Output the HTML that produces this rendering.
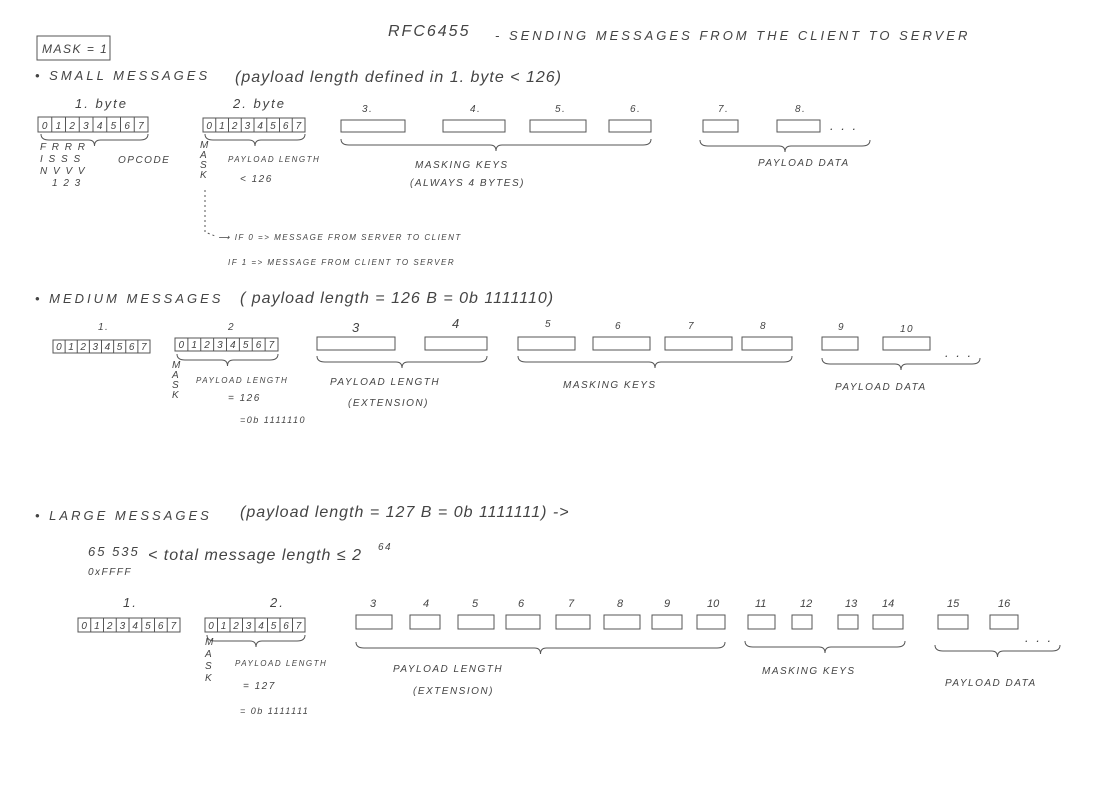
<!DOCTYPE html>
<html><head><meta charset="utf-8"><style>
html,body{margin:0;padding:0;background:#fff;}
svg{display:block}
text{font-family:"Liberation Sans",sans-serif;fill:#444;font-style:italic}
.s{font-size:10px;letter-spacing:1.5px}
.m{font-size:13px;letter-spacing:2px}
.l{font-size:16px;letter-spacing:1px}
</style></head><body>
<svg id="s" width="1100" height="800" viewBox="0 0 1100 800" xmlns="http://www.w3.org/2000/svg">
<g stroke="#555" stroke-width="1" fill="none" id="g">
<rect x="37" y="36" width="73" height="24"/>
</g>
<text x="388" y="36" class="l" style="letter-spacing:2px">RFC6455</text>
<text x="495" y="40" class="m" style="letter-spacing:3px">- SENDING MESSAGES FROM THE CLIENT TO SERVER</text>
<text x="42" y="53" class="s" style="font-size:12px">MASK = 1</text>
<text x="35" y="80" class="m" style="letter-spacing:3px">• SMALL MESSAGES</text>
<text x="235" y="82" class="l">(payload length defined in 1. byte &lt; 126)</text>
<text x="75" y="108" class="m">1. byte</text>
<text x="233" y="108" class="m">2. byte</text>
<text x="362" y="112" class="s">3.</text><text x="470" y="112" class="s">4.</text><text x="555" y="112" class="s">5.</text><text x="630" y="112" class="s">6.</text>
<text x="718" y="112" class="s">7.</text><text x="795" y="112" class="s">8.</text>
<text x="830" y="130" class="m">. . .</text>
<text x="40" y="150" class="s">F R R R</text>
<text x="40" y="162" class="s">I S S S</text>
<text x="40" y="174" class="s">N V V V</text>
<text x="52" y="186" class="s">1 2 3</text>
<text x="118" y="163" class="s">OPCODE</text>
<text x="200" y="148" class="s">M</text><text x="200" y="158" class="s">A</text><text x="200" y="168" class="s">S</text><text x="200" y="178" class="s">K</text>
<text x="228" y="162" class="s" style="font-size:8px">PAYLOAD LENGTH</text>
<text x="240" y="182" class="s">&lt; 126</text>
<text x="415" y="168" class="s">MASKING KEYS</text>
<text x="410" y="186" class="s">(ALWAYS 4 BYTES)</text>
<text x="758" y="166" class="s">PAYLOAD DATA</text>
<text x="218" y="240" class="s" style="font-size:8px">⟶ IF 0 =&gt; MESSAGE FROM SERVER TO CLIENT</text>
<text x="228" y="265" class="s" style="font-size:8px">IF 1 =&gt; MESSAGE FROM CLIENT TO SERVER</text>

<text x="35" y="303" class="m" style="letter-spacing:3px">• MEDIUM MESSAGES</text>
<text x="240" y="303" class="l">( payload length = 126 B = 0b 1111110)</text>
<text x="98" y="330" class="s">1.</text><text x="228" y="330" class="s">2</text>
<text x="352" y="332" class="m">3</text><text x="452" y="328" class="m">4</text>
<text x="545" y="327" class="s">5</text><text x="615" y="329" class="s">6</text><text x="688" y="329" class="s">7</text><text x="760" y="329" class="s">8</text>
<text x="838" y="330" class="s">9</text><text x="900" y="332" class="s">10</text>
<text x="945" y="357" class="m">. . .</text>
<text x="170" y="345" class="s" style="font-size:0"></text>
<text x="172" y="368" class="s">M</text><text x="172" y="378" class="s">A</text><text x="172" y="388" class="s">S</text><text x="172" y="398" class="s">K</text>
<text x="196" y="383" class="s" style="font-size:8px">PAYLOAD LENGTH</text>
<text x="228" y="401" class="s">= 126</text>
<text x="240" y="423" class="s" style="font-size:9px">=0b 1111110</text>
<text x="330" y="385" class="s">PAYLOAD LENGTH</text>
<text x="348" y="406" class="s">(EXTENSION)</text>
<text x="563" y="388" class="s">MASKING KEYS</text>
<text x="835" y="390" class="s">PAYLOAD DATA</text>

<text x="35" y="520" class="m" style="letter-spacing:3px">• LARGE MESSAGES</text>
<text x="240" y="517" class="l">(payload length = 127 B = 0b 1111111) -&gt;</text>
<text x="88" y="556" class="m">65 535</text>
<text x="148" y="560" class="l">&lt; total message length ≤ 2</text><text x="378" y="550" class="s">64</text>
<text x="88" y="575" class="s">0xFFFF</text>
<text x="123" y="607" class="m">1.</text><text x="270" y="607" class="m">2.</text>
<text x="205" y="645" class="s">M</text><text x="205" y="657" class="s">A</text><text x="205" y="669" class="s">S</text><text x="205" y="681" class="s">K</text>
<text x="235" y="666" class="s" style="font-size:8px">PAYLOAD LENGTH</text>
<text x="243" y="689" class="s">= 127</text>
<text x="240" y="714" class="s" style="font-size:9px">= 0b 1111111</text>
<text x="393" y="672" class="s">PAYLOAD LENGTH</text>
<text x="413" y="694" class="s">(EXTENSION)</text>
<text x="762" y="674" class="s">MASKING KEYS</text>
<text x="945" y="686" class="s">PAYLOAD DATA</text>
<text x="1025" y="642" class="m">. . .</text>
</svg>
<script>
var g=document.getElementById('g'),s=document.getElementById('s'),N='http://www.w3.org/2000/svg';
function el(t,a){var e=document.createElementNS(N,t);for(var k in a)e.setAttribute(k,a[k]);return e;}
function txt(x,y,str,sz){var e=el('text',{x:x,y:y,'font-size':sz||9});e.textContent=str;s.appendChild(e);}
function bytebox(x,y,w,h,labels){g.appendChild(el('rect',{x:x,y:y,width:w,height:h}));var cw=w/8;
for(var i=1;i<8;i++)g.appendChild(el('line',{x1:x+i*cw,y1:y,x2:x+i*cw,y2:y+h}));
for(var i=0;i<8;i++)txt(x+i*cw+cw/2-3,y+h-3,labels[i],Math.min(10,h-3));}
function box(x,y,w,h){g.appendChild(el('rect',{x:x,y:y,width:w,height:h}));}
function brace(x1,x2,y){var m=(x1+x2)/2;g.appendChild(el('path',{d:'M'+x1+' '+y+' q0 6 8 6 L'+(m-6)+' '+(y+6)+' q6 0 6 6 q0 -6 6 -6 L'+(x2-8)+' '+(y+6)+' q8 0 8 -6'}));}
var L=['0','1','2','3','4','5','6','7'];
bytebox(38,117,110,15,L);bytebox(203,118,102,14,L);
[[341,64],[443,62],[530,56],[609,42],[703,35],[777,43]].forEach(function(b){box(b[0],120,b[1],12);});
brace(41,148,134);brace(205,305,134);brace(341,651,139);brace(700,870,140);
g.appendChild(el('path',{d:'M205 190 L205 232 L215 236','stroke-dasharray':'2,3'}));
bytebox(53,340,97,13,L);bytebox(175,338,103,13,L);
[[317,78],[425,62],[518,57],[593,57],[665,67],[742,50],[822,36],[883,47]].forEach(function(b){box(b[0],337,b[1],13);});
brace(177,278,354);brace(317,487,356);brace(518,792,356);brace(822,980,358);
bytebox(78,618,102,14,L);bytebox(205,618,100,14,L);
[[356,36],[410,30],[458,36],[506,34],[556,34],[604,36],[652,30],[697,28],[748,27],[792,20],[838,20],[873,30],[938,30],[990,28]].forEach(function(b){box(b[0],615,b[1],14);});
[[370,'3'],[423,'4'],[472,'5'],[518,'6'],[568,'7'],[617,'8'],[664,'9'],[707,'10'],[755,'11'],[800,'12'],[845,'13'],[882,'14'],[947,'15'],[998,'16']].forEach(function(t){txt(t[0],607,t[1],11);});
brace(207,305,635);brace(356,725,642);brace(745,905,641);brace(935,1060,645);
</script>
</body></html>
